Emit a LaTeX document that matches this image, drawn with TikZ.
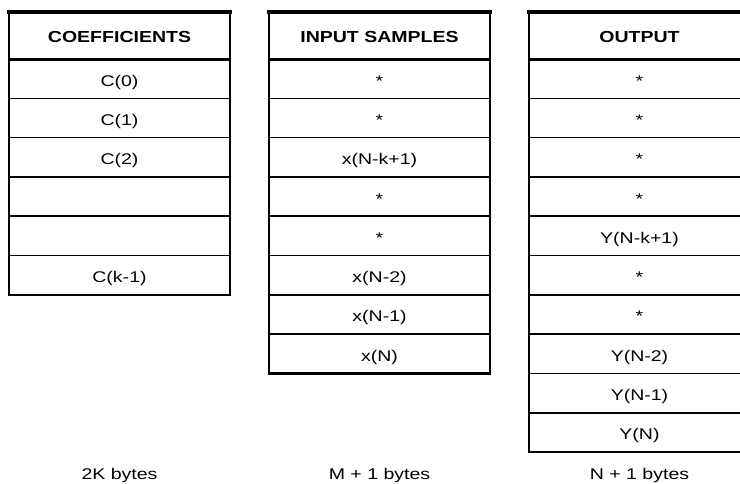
\documentclass[tikz,border=0pt]{standalone}
\usepackage{fontspec}
\usepackage{graphicx}
\setmainfont{Liberation Sans}
\newcommand{\wide}[1]{\scalebox{1.26}[1]{#1}}
\newcommand{\wideb}[1]{\scalebox{1.22}[1]{#1}}
\begin{document}
\begin{tikzpicture}[x=1pt,y=-1pt,
  cell/.style={draw=black, line width=1.6pt, minimum width=221pt, minimum height=39.3pt,
    inner sep=0pt, outer sep=0pt, anchor=north west, text height=15pt, text depth=0pt,
    font=\fontsize{15.5}{18}\selectfont},
  head/.style={cell, minimum height=47.5pt, font=\bfseries\fontsize{16}{18}\selectfont},
  frame/.style={draw=black, line width=2.2pt},
  topline/.style={draw=black, line width=4pt, line cap=rect},
  sepline/.style={draw=black, line width=3pt},
  label/.style={anchor=base, inner sep=0pt, font=\fontsize{15.5}{18}\selectfont}]
\useasboundingbox (0,0) rectangle (740,483);
\clip (0,0) rectangle (740,483);

% Coefficients
\node[head] (coefh) at (9,11.5) {\wideb{COEFFICIENTS}};
\foreach \t [count=\i] in {C(0),C(1),C(2),{},{},C(k-1)}
  \node[cell] (coef\i) at (9,{59+(\i-1)*39.3}) {\wide{\t}};

% Input samples
\node[head] (inh) at (269,11.5) {\wideb{INPUT SAMPLES}};
\foreach \t [count=\i] in {*,*,x(N-k+1),*,*,x(N-2),x(N-1),x(N)}
  \node[cell] (in\i) at (269,{59+(\i-1)*39.3}) {\wide{\t}};

% Output
\node[head] (outh) at (529,11.5) {\wideb{OUTPUT}};
\foreach \t [count=\i] in {*,*,*,*,Y(N-k+1),*,*,Y(N-2),Y(N-1),Y(N)}
  \node[cell] (out\i) at (529,{59+(\i-1)*39.3}) {\wide{\t}};

% heavier frames
\draw[frame] (coefh.north west) rectangle (coef6.south east);
\draw[frame] (inh.north west) rectangle (in8.south east);
\draw[frame] (outh.north west) rectangle (out10.south east);
\draw[topline] (coefh.north west) -- (coefh.north east);
\draw[topline] (inh.north west) -- (inh.north east);
\draw[topline] (outh.north west) -- (outh.north east);
\draw[sepline] (coefh.south west) -- (coefh.south east);
\draw[sepline] (inh.south west) -- (inh.south east);
\draw[sepline] (outh.south west) -- (outh.south east);

% size labels
\node[label] (lcoef) at (119.5,479) {\wide{2K bytes}};
\node[label] (lin) at (379.5,479) {\wide{M + 1 bytes}};
\node[label] (lout) at (639.5,479) {\wide{N + 1 bytes}};
\end{tikzpicture}
\end{document}
